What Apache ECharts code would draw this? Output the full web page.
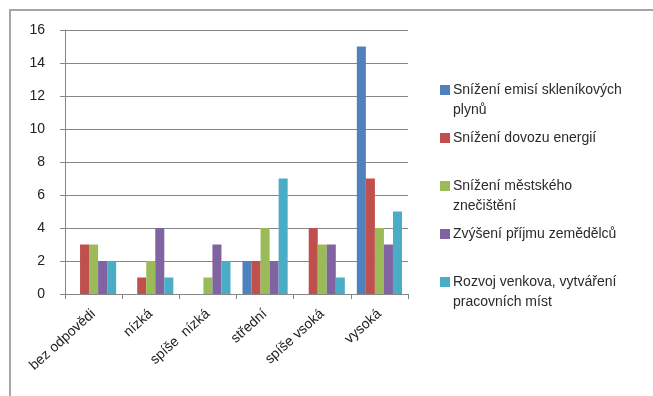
<!DOCTYPE html>
<html>
<head>
<meta charset="utf-8">
<script src="https://cdn.jsdelivr.net/npm/echarts@6/dist/echarts.min.js"></script>
<style>
	html, body { margin: 0; padding: 0; background: #fff; }
	#main_chart { width: 653px; height: 396px; }
</style>
</head>
<body>
<div id="main_chart"></div>
<script>
// 类别
var categories = ['bez odpovědi', 'nízká', 'spíše  nízká', 'střední', 'spíše vsoká', 'vysoká'];
// 系列名称
var seriesNames = [
	'Snížení emisí skleníkových\nplynů',
	'Snížení dovozu energií',
	'Snížení městského\nznečištění',
	'Zvýšení příjmu zemědělců',
	'Rozvoj venkova, vytváření\npracovních míst'
];
// 数据
var emise = [0, 0, 0, 2, 0, 15];
var dovoz = [3, 1, 0, 2, 4, 7];
var mestske = [3, 2, 1, 4, 3, 4];
var prijem = [2, 4, 3, 2, 3, 3];
var venkov = [2, 1, 2, 7, 1, 5];
var yTicks = [0, 2, 4, 6, 8, 10, 12, 14, 16];

var colors = ['#4f81bd', '#c0504d', '#9bbb59', '#8064a2', '#4bacc6'];

var MainChart = {

	init: function () {
		this.render();
	},

	// 图例文字
	legendRich: function () {
		var rich = {
			t: { fontSize: 14, lineHeight: 20, color: '#2a2a2a', padding: [0, 0, 0, 3] },
			t2: { fontSize: 14, lineHeight: 20, color: '#2a2a2a', padding: [0, 0, 0, 13] }
		};
		for (var i = 0; i < colors.length; i++) {
			rich['b' + i] = { width: 10, height: 10, backgroundColor: colors[i] };
		}
		return rich;
	},

	render: function () {
		var myChart = echarts.init(document.getElementById('main_chart'));
		var dataList = [emise, dovoz, mestske, prijem, venkov];
		var series = [];
		for (var i = 0; i < dataList.length; i++) {
			series.push({
				name: seriesNames[i],
				type: 'bar',
				data: dataList[i],
				barGap: '0%',
				barCategoryGap: '21%',
				itemStyle: { color: colors[i] }
			});
		}

		var option = {
			animation: false,
			textStyle: { fontFamily: 'Liberation Sans' },
			graphic: [{
				type: 'rect',
				shape: { x: 10, y: 10, width: 700, height: 500 },
				style: { fill: 'none', stroke: '#a6a6a6', lineWidth: 2 }
			}],
			legend: {
				orient: 'vertical',
				left: 430,
				top: 78,
				itemGap: 14,
				itemWidth: 0,
				itemHeight: 0,
				icon: 'rect',
				selectedMode: false,
				data: seriesNames,
				formatter: function (name) {
					var idx = seriesNames.indexOf(name);
					var lines = name.split('\n');
					var s = '{b' + idx + '|}{t|' + lines[0] + '}';
					s += '\n{t2|' + (lines[1] || ' ') + '}';
					return s;
				},
				textStyle: { rich: this.legendRich() }
			},
			grid: { left: 65, top: 30, right: 245, bottom: 102, containLabel: false },
			xAxis: {
				type: 'category',
				data: categories,
				axisLine: { lineStyle: { color: '#868686' } },
				axisTick: { show: true, length: 5, alignWithLabel: false, lineStyle: { color: '#868686' } },
				axisLabel: { rotate: 42, fontSize: 14, color: '#222', margin: 18, interval: 0 }
			},
			yAxis: {
				type: 'value',
				min: yTicks[0],
				max: yTicks[yTicks.length - 1],
				interval: 2,
				axisLine: { show: true, lineStyle: { color: '#868686' } },
				axisTick: { show: true, length: 5, lineStyle: { color: '#868686' } },
				axisLabel: { fontSize: 14, color: '#222', margin: 20 },
				splitLine: { lineStyle: { color: '#868686' } }
			},
			series: series
		};

		// 使用刚指定的配置项和数据显示图表。
		myChart.setOption(option);
	}
};

MainChart.init();
</script>
</body>
</html>
